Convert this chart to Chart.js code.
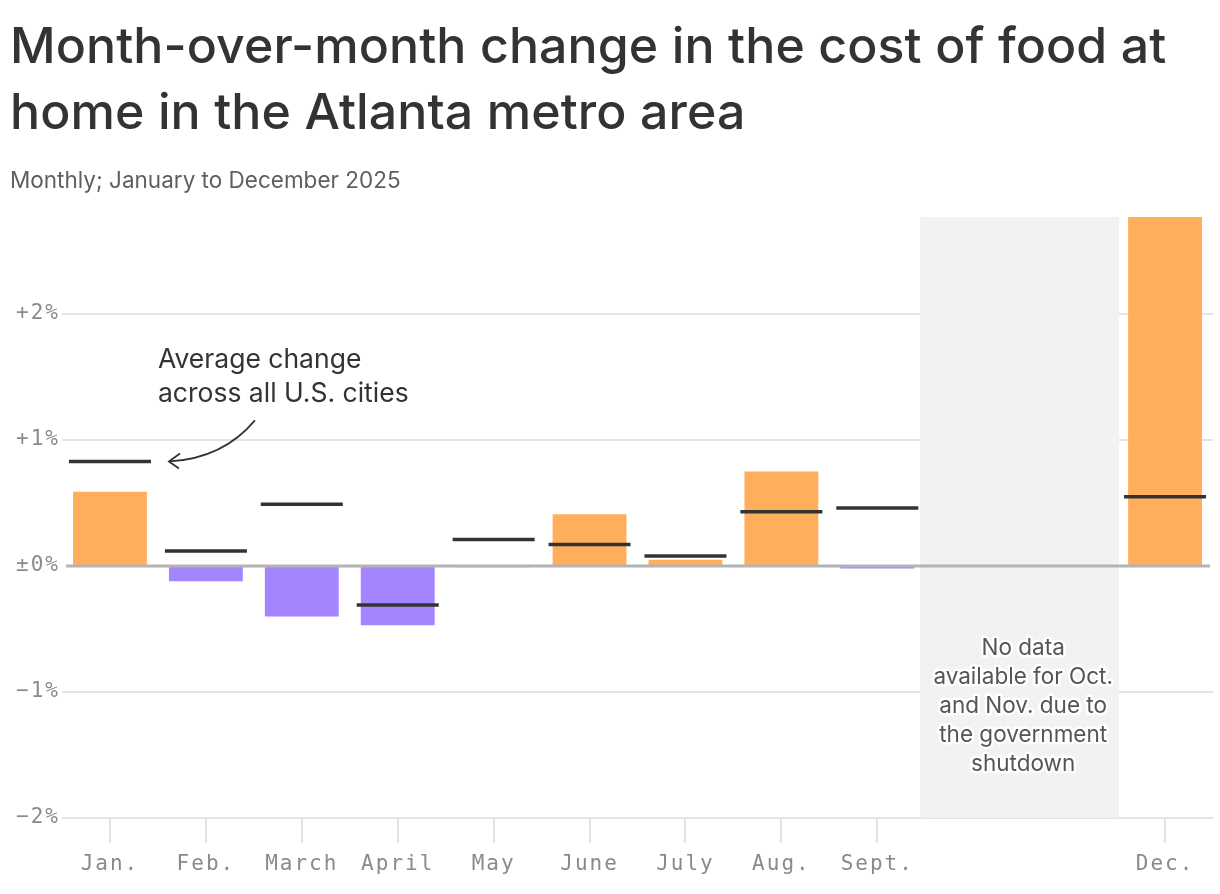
<!DOCTYPE html>
<html>
<head>
<meta charset="utf-8">
<script src="https://cdn.jsdelivr.net/npm/chart.js@4"></script>
<style>
  body { margin: 0; background: #fff; }
  #wrap { position: relative; width: 1220px; height: 894px; }
  #title { position: absolute; left: 10px; top: 12px; width: 1210px; margin: 0;
    font: 500 50px Inter, "Noto Sans", sans-serif; line-height: 66px; color: #333; letter-spacing: 0.1px; }
  #sub { position: absolute; left: 10px; top: 166px; margin: 0;
    font: 400 22.5px Inter, "Noto Sans", sans-serif; color: #5f5f5f; letter-spacing: 0; }
  canvas { position: absolute; left: 0; top: 0; }
</style>
</head>
<body>
<div id="wrap">
  <canvas id="c" width="1220" height="894"></canvas>
  <h1 id="title">Month-over-month change in the cost of food at home in the Atlanta metro area</h1>
  <p id="sub">Monthly; January to December 2025</p>
</div>
<script>
// month labels (Oct/Nov have no data)
const months = ['Jan.', 'Feb.', 'March', 'April', 'May', 'June', 'July', 'Aug.', 'Sept.', '', '', 'Dec.'];
// Atlanta metro, % change from previous month
const atlanta = [0.59, -0.12, -0.40, -0.47, -0.01, 0.41, 0.05, 0.75, -0.02, null, null, 2.77];
// average across all U.S. cities
const usAvg = [0.83, 0.12, 0.49, -0.31, 0.21, 0.17, 0.08, 0.43, 0.46, null, null, 0.55];
const yTicks = [-2, -1, 0, 1, 2];
const noDataIdx = [9, 10];

const ORANGE = '#FFAE5C';
const PURPLE = '#A584FF';
const FONT = 'Inter, "Noto Sans", sans-serif';
const MONO = '"DejaVu Sans Mono", "Liberation Mono", monospace';

// grey band behind Oct./Nov. + zero line + notes
const extras = {
  id: 'extras',
  beforeDraw(chart) {
    chart.ctx.letterSpacing = '2px'; // wide mono axis labels
  },
  beforeDatasetsDraw(chart) {
    const { ctx, chartArea, scales: { x } } = chart;
    const half = (x.getPixelForValue(1) - x.getPixelForValue(0)) / 2;
    const x0 = x.getPixelForValue(noDataIdx[0]) - half - 5;
    const x1 = x.getPixelForValue(noDataIdx[noDataIdx.length - 1]) + half + 2;
    ctx.save();
    ctx.fillStyle = '#f2f2f2';
    ctx.fillRect(x0, chartArea.top, x1 - x0, chartArea.bottom - chartArea.top);
    ctx.restore();
  },
  afterDatasetsDraw(chart) {
    const { ctx, chartArea, scales: { x, y } } = chart;
    ctx.save();
    ctx.letterSpacing = '0px';
    // zero line
    const zy = y.getPixelForValue(0);
    ctx.strokeStyle = '#b4b4b4';
    ctx.lineWidth = 3;
    ctx.beginPath();
    ctx.moveTo(chartArea.left + 4, zy);
    ctx.lineTo(chartArea.right - 3, zy);
    ctx.stroke();

    // annotation for the US average line
    const tipX = x.getPixelForValue(0) + 58;
    const tipY = y.getPixelForValue(usAvg[0]);
    ctx.fillStyle = '#333';
    ctx.font = '400 26.5px ' + FONT;
    ctx.textBaseline = 'alphabetic';
    ctx.textAlign = 'left';
    ctx.fillText('Average change', tipX - 10, tipY - 93);
    ctx.fillText('across all U.S. cities', tipX - 10, tipY - 59);
    ctx.strokeStyle = '#333';
    ctx.lineWidth = 1.8;
    ctx.beginPath();
    ctx.moveTo(tipX + 87, tipY - 41);
    ctx.quadraticCurveTo(tipX + 55, tipY - 3, tipX + 2, tipY);
    ctx.stroke();
    ctx.beginPath();
    ctx.moveTo(tipX + 12, tipY - 8);
    ctx.lineTo(tipX + 1, tipY);
    ctx.lineTo(tipX + 11, tipY + 7);
    ctx.stroke();

    // no-data note
    const cx = (x.getPixelForValue(noDataIdx[0]) + x.getPixelForValue(noDataIdx[1])) / 2 + 2;
    const lines = ['No data', 'available for Oct.', 'and Nov. due to', 'the government', 'shutdown'];
    ctx.font = '400 22.5px ' + FONT;
    ctx.textAlign = 'center';
    ctx.textBaseline = 'middle';
    ctx.lineJoin = 'round';
    const startY = y.getPixelForValue(-0.65);
    lines.forEach((t, i) => {
      ctx.strokeStyle = '#fff';
      ctx.lineWidth = 5;
      ctx.strokeText(t, cx, startY + i * 29);
      ctx.fillStyle = '#555';
      ctx.fillText(t, cx, startY + i * 29);
    });
    ctx.restore();
  }
};

new Chart(document.getElementById('c'), {
  data: {
    labels: months,
    datasets: [
      {
        type: 'line',
        label: 'U.S. average',
        data: usAvg,
        showLine: false,
        pointStyle: 'line',
        pointRadius: 41,
        pointHoverRadius: 41,
        borderColor: '#333',
        borderWidth: 3.5,
        order: 0
      },
      {
        type: 'bar',
        label: 'Atlanta',
        data: atlanta,
        backgroundColor: atlanta.map(v => v >= 0 ? ORANGE : PURPLE),
        barPercentage: 0.77,
        categoryPercentage: 1,
        order: 1
      }
    ]
  },
  options: {
    responsive: false,
    animation: false,
    layout: { autoPadding: false, padding: { left: 0, right: 7, top: 217, bottom: 0 } },
    plugins: { legend: { display: false }, tooltip: { enabled: false } },
    scales: {
      x: {
        grid: {
          offset: false,
          drawOnChartArea: false,
          tickLength: 25,
          color: c => noDataIdx.includes(c.index) ? 'rgba(0,0,0,0)' : '#e2e2e2',
          lineWidth: 2
        },
        border: { display: false },
        ticks: {
          color: '#8a8a8a',
          font: { family: MONO, size: 21 },
          padding: 9,
          maxRotation: 0,
          autoSkip: false
        },
        afterFit(s) { s.height = 76; }
      },
      y: {
        min: -2,
        max: 2.77,
        afterBuildTicks(s) { s.ticks = yTicks.map(v => ({ value: v })); },
        grid: {
          drawTicks: false,
          color: c => c.tick && c.tick.value === 0 ? 'rgba(0,0,0,0)' : '#e4e4e4',
          lineWidth: 2
        },
        border: { display: false },
        ticks: {
          color: '#8a8a8a',
          font: { family: MONO, size: 21 },
          padding: 2,
          callback: v => v > 0 ? '+' + v + '%' : v === 0 ? '±0%' : '−' + Math.abs(v) + '%'
        },
        afterFit(s) { s.width = 62; }
      }
    }
  },
  plugins: [extras]
});
</script>
</body>
</html>
